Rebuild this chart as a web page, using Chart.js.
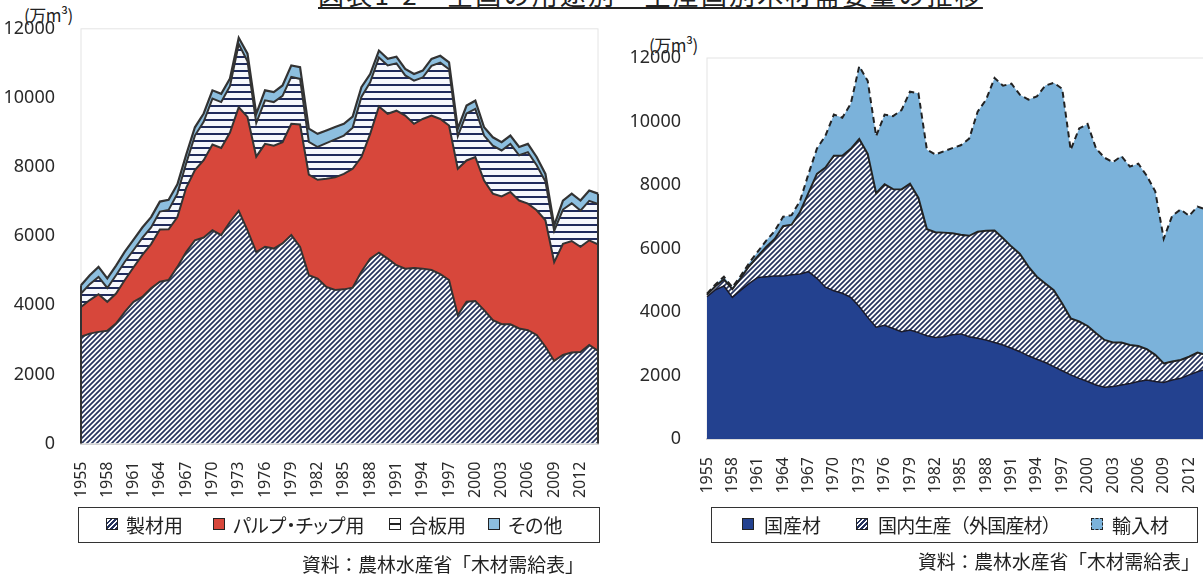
<!DOCTYPE html>
<html lang="ja">
<head>
<meta charset="utf-8">
<script src="https://cdn.jsdelivr.net/npm/chart.js@4.4.1/dist/chart.umd.min.js"></script>
<style>
  html, body { margin: 0; padding: 0; background: #fff; overflow: hidden; }
  body { width: 1203px; height: 576px; position: relative; font-family: "Noto Sans CJK JP", "Noto Sans", sans-serif; color: #222; }
  canvas { position: absolute; }
  .txt { position: absolute; white-space: nowrap; }
  .title { left: 318px; top: -25px; font-size: 26px; letter-spacing: 2.2px; text-decoration: underline; text-decoration-thickness: 2px; text-underline-offset: 2px; }
  .unit { font-size: 17px; letter-spacing: -0.5px; }
  .legend { position: absolute; border: 1.5px solid #333; box-sizing: border-box; height: 36px; }
  .item { position: absolute; top: 0; height: 33px; line-height: 33px; font-size: 19px; font-feature-settings: "palt"; }
  .mk { position: absolute; top: 10px; width: 12px; height: 12px; box-sizing: border-box; border: 1.5px solid #222; }
  .src { font-size: 18.8px; }
</style>
</head>
<body>
<div class="txt title">図表1-2　全国の用途別・生産国別木材需要量の推移</div>

<div class="txt unit" style="left:24px; top:2px;">(万m³)</div>
<canvas id="left" width="602" height="515" style="left:0; top:0;"></canvas>

<div class="txt unit" style="left:649px; top:32px;">(万m³)</div>
<canvas id="right" width="590" height="515" style="left:620px; top:0;"></canvas>

<div class="legend" style="left:78px; top:507px; width:522px;">
  <div class="mk" id="mkSawn" style="left:27px;"></div><div class="item" style="left:47px;">製材用</div>
  <div class="mk" style="left:134px; background:#d7473b;"></div><div class="item" style="left:154px;">パルプ・チップ用</div>
  <div class="mk" id="mkPly" style="left:310px;"></div><div class="item" style="left:330px;">合板用</div>
  <div class="mk" style="left:409px; background:#8dbfdf;"></div><div class="item" style="left:429px;">その他</div>
</div>
<div class="txt src" style="left:302px; top:550px;">資料：農林水産省「木材需給表」</div>

<div class="legend" style="left:711px; top:507px; width:487px;">
  <div class="mk" style="left:30px; background:#23418f;"></div><div class="item" style="left:52px;">国産材</div>
  <div class="mk" id="mkForeign" style="left:144px;"></div><div class="item" style="left:166px; font-feature-settings: normal; letter-spacing: -0.8px;">国内生産（外国産材）</div>
  <div class="mk" style="left:379px; background:#7bb2da; border-style:dashed;"></div><div class="item" style="left:400px;">輸入材</div>
</div>
<div class="txt src" style="left:918px; top:547px;">資料：農林水産省「木材需給表」</div>

<script>
// years on the category axis
const years = [1955,1956,1957,1958,1959,1960,1961,1962,1963,1964,
               1965,1966,1967,1968,1969,1970,1971,1972,1973,1974,
               1975,1976,1977,1978,1979,1980,1981,1982,1983,1984,
               1985,1986,1987,1988,1989,1990,1991,1992,1993,1994,
               1995,1996,1997,1998,1999,2000,2001,2002,2003,2004,
               2005,2006,2007,2008,2009,2010,2011,2012,2013,2014];

// left chart: demand by use (万m3)
const sawnwood = [3090,3180,3230,3260,3470,3810,4100,4240,4490,4680,
                  4730,5110,5540,5880,5960,6170,6030,6410,6730,6170,
                  5540,5690,5640,5790,6030,5690,4870,4770,4530,4440,
                  4460,4510,4970,5350,5520,5350,5160,5060,5080,5060,
                  5020,4900,4730,3710,4100,4120,3860,3570,3450,3450,
                  3330,3280,3140,2800,2390,2560,2630,2650,2850,2680];
const pulpChip = [860,970,1090,840,870,920,1000,1220,1280,1510,
                  1470,1440,1860,2030,2240,2480,2520,2590,3000,3280,
                  2760,2980,2980,2930,3220,3540,2910,2860,3130,3260,
                  3340,3440,3320,3610,4230,4190,4470,4430,4170,4330,
                  4470,4490,4470,4240,4090,4170,3750,3660,3700,3830,
                  3700,3660,3610,3660,2860,3220,3230,3040,3030,3080];
const plywood  = [390,460,500,400,530,530,500,490,480,520,
                  560,680,700,1000,1110,1330,1330,1340,1830,1610,
                  970,1260,1260,1340,1360,1320,950,950,1030,1100,
                  1110,1190,1740,1490,1420,1400,1370,1160,1250,1200,
                  1440,1630,1630,940,1360,1390,1300,1390,1330,1390,
                  1310,1490,1300,1120,900,990,1090,1050,1140,1170];
const otherUse = [240,260,290,280,280,290,300,300,300,290,
                  290,270,250,240,240,240,240,220,180,220,
                  270,290,290,300,330,340,380,380,370,360,
                  340,320,280,240,200,190,190,190,190,200,
                  200,200,200,220,230,240,240,240,240,240,
                  240,240,240,220,160,260,280,290,300,300];

// right chart: demand by origin (万m3)
const domestic = [4480,4700,4820,4460,4690,4900,5090,5110,5130,5130,
                  5170,5200,5270,5060,4780,4670,4590,4460,4170,3830,
                  3520,3580,3480,3380,3430,3350,3250,3200,3220,3280,
                  3310,3220,3170,3120,3040,2960,2860,2750,2620,2510,
                  2410,2280,2150,2020,1910,1810,1700,1630,1650,1700,
                  1750,1810,1860,1810,1780,1860,1910,2020,2120,2200];
const domesticForeign = [60,110,210,260,380,550,660,940,1170,1570,
                  1580,1950,2480,3290,3770,4250,4330,4680,5280,5150,
                  4220,4440,4390,4480,4610,4240,3360,3310,3280,3200,
                  3120,3180,3360,3440,3530,3360,3200,3080,2810,2600,
                  2490,2410,2120,1780,1790,1750,1630,1490,1390,1340,
                  1210,1120,970,840,600,580,580,570,600,450];
const imported = [40,60,80,60,80,100,150,200,250,300,
                  300,350,600,800,1000,1300,1200,1420,2290,2300,
                  1800,2200,2300,2500,2900,3300,2500,2450,2560,2680,
                  2820,3060,3780,4130,4800,4810,5130,5010,5260,5680,
                  6230,6530,6760,5310,6080,6360,5820,5740,5680,5870,
                  5620,5740,5460,5150,3930,4590,4740,4440,4600,4580];

const yTicks = [0, 2000, 4000, 6000, 8000, 10000, 12000];

function makePattern(kind) {
  const c = document.createElement('canvas');
  const g = c.getContext('2d');
  if (kind === 'diag') {
    c.width = 5; c.height = 5;
    g.fillStyle = '#fff'; g.fillRect(0, 0, 5, 5);
    g.strokeStyle = '#26335e'; g.lineWidth = 1.7;
    g.beginPath();
    g.moveTo(-1, 6); g.lineTo(6, -1);
    g.moveTo(-1, 1); g.lineTo(1, -1);
    g.moveTo(4, 6); g.lineTo(6, 4);
    g.stroke();
  } else {
    c.width = 4; c.height = 7;
    g.fillStyle = '#f6f8fc'; g.fillRect(0, 0, 4, 7);
    g.fillStyle = '#1f2b5c'; g.fillRect(0, 0, 4, 2);
  }
  return g.createPattern(c, 'repeat');
}

const diag = makePattern('diag');
const stripes = makePattern('stripes');

const tickFont = { family: 'Noto Sans', size: 18 };
const xFont = { family: 'Noto Sans', size: 16 };

// faint plot border
const frame = {
  id: 'frame',
  beforeDatasetsDraw(chart) {
    const a = chart.chartArea, ctx = chart.ctx;
    ctx.save();
    ctx.strokeStyle = '#e4e4e4';
    ctx.lineWidth = 1;
    ctx.strokeRect(a.left, a.top, a.right - a.left, a.bottom - a.top);
    ctx.restore();
  }
};

// outline the left and right ends of the stacked area
const edges = {
  id: 'edges',
  afterDatasetsDraw(chart, args, opts) {
    if (!opts.on) return;
    const { ctx, scales: { x, y } } = chart;
    const n = chart.data.labels.length;
    const sum = i => chart.data.datasets.reduce((s, d) => s + d.data[i], 0);
    ctx.save();
    ctx.strokeStyle = '#333';
    ctx.lineWidth = 2;
    [0, n - 1].forEach(i => {
      const px = x.getPixelForValue(i);
      ctx.beginPath();
      ctx.moveTo(px, y.getPixelForValue(0));
      ctx.lineTo(px, y.getPixelForValue(sum(i)));
      ctx.stroke();
    });
    ctx.restore();
  }
};

function baseOptions(yWidth, xHeight, padTop, padRight, edgeOn) {
  return {
    responsive: false,
    animation: false,
    layout: { padding: { top: padTop, right: padRight, left: 0, bottom: 0 } },
    plugins: { legend: { display: false }, tooltip: { enabled: false }, edges: { on: edgeOn } },
    elements: { point: { radius: 0 }, line: { tension: 0 } },
    scales: {
      x: {
        offset: false,
        grid: { display: false },
        border: { color: '#a8a8a8', width: 1.5 },
        ticks: {
          autoSkip: false, minRotation: 90, maxRotation: 90,
          font: xFont, color: '#2a2a2a', padding: 10,
          callback: (v, i) => (years[i] - years[0]) % 3 === 0 ? String(years[i]) : ''
        },
        afterFit: s => { s.height = xHeight; s.paddingLeft = 0; s.paddingRight = 0; }
      },
      y: {
        stacked: true, min: 0, max: 12000,
        grid: { display: false },
        border: { display: false },
        afterBuildTicks: s => { s.ticks = yTicks.map(v => ({ value: v })); },
        ticks: { font: tickFont, color: '#2a2a2a', padding: 18, callback: v => String(v) },
        afterFit: s => { s.width = yWidth; }
      }
    }
  };
}

new Chart(document.getElementById('left'), {
  type: 'line',
  data: {
    labels: years,
    datasets: [
      { label: '製材用', data: sawnwood, backgroundColor: diag, borderColor: '#333', borderWidth: 2, fill: 'origin' },
      { label: 'パルプ・チップ用', data: pulpChip, backgroundColor: '#d7473b', borderColor: '#333', borderWidth: 2, fill: '-1' },
      { label: '合板用', data: plywood, backgroundColor: stripes, borderColor: '#333', borderWidth: 2, fill: '-1' },
      { label: 'その他', data: otherUse, backgroundColor: '#8dbfdf', borderColor: '#333', borderWidth: 2.2, fill: '-1' }
    ]
  },
  options: baseOptions(81, 71.5, 28, 4, true),
  plugins: [frame, edges]
});

new Chart(document.getElementById('right'), {
  type: 'line',
  data: {
    labels: years,
    datasets: [
      { label: '国産材', data: domestic, backgroundColor: '#23418f', borderColor: '#1a1a2a', borderWidth: 1.5, fill: 'origin' },
      { label: '国内生産（外国産材）', data: domesticForeign, backgroundColor: diag, borderColor: '#222', borderWidth: 2, fill: '-1' },
      { label: '輸入材', data: imported, backgroundColor: '#7bb2da', borderColor: '#222', borderWidth: 2, borderDash: [6, 4], fill: '-1' }
    ]
  },
  options: baseOptions(87, 76, 58, 4, false),
  plugins: [frame, edges]
});

// legend swatches
document.getElementById('mkSawn').style.background = 'repeating-linear-gradient(-45deg, #26335e 0 1.5px, #fff 1.5px 3.5px)';
document.getElementById('mkForeign').style.background = 'repeating-linear-gradient(-45deg, #26335e 0 1.5px, #fff 1.5px 3.5px)';
document.getElementById('mkPly').style.background = 'linear-gradient(#fff 0 4px, #222 4px 6px, #fff 6px)';
</script>
</body>
</html>
